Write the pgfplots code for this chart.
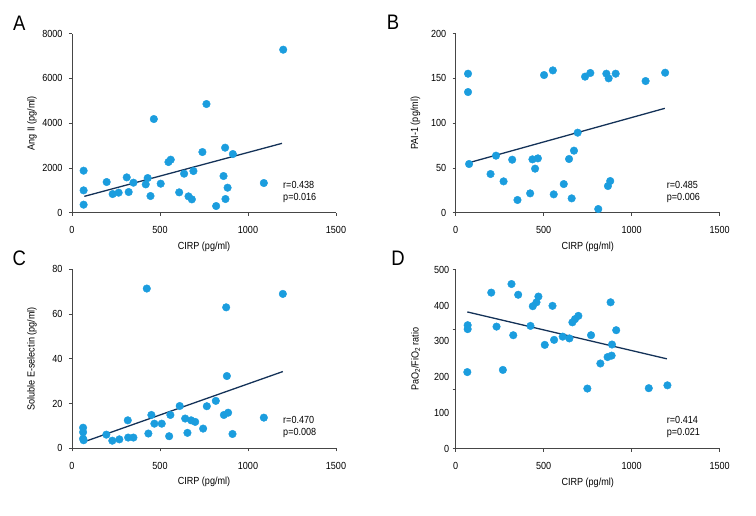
\documentclass[border=0pt]{standalone}
\usepackage{fontspec}
\setmainfont{Liberation Sans}[FakeStretch=0.88]
\usepackage{pgfplots}
\pgfplotsset{compat=1.18}
\definecolor{dotc}{RGB}{27,157,222}
\definecolor{linec}{RGB}{20,50,88}
\definecolor{axc}{RGB}{70,70,70}
\tikzset{
  stat/.style={anchor=west, align=left, font=\fontsize{10.3}{11.7}\selectfont},
  letter/.style={font=\fontsize{21}{24}\selectfont},
}
\pgfplotsset{
  panel/.style={
    scale only axis, width=264pt, height=179pt, anchor=south west,
    clip=false,
    axis lines*=left, axis line style={axc, line width=0.8pt, -},
    tick align=outside, major tick length=3pt,
    tick style={axc, line width=0.8pt},
    xmin=0, xmax=1500, xtick={0,500,1000,1500},
    /pgf/number format/assume math mode=true,
    /pgf/number format/1000 sep={},
    ticklabel style={font=\fontsize{10.3}{12}\selectfont},
    xticklabel style={yshift=-7pt},
    yticklabel style={xshift=-3pt},
    label style={font=\fontsize{10.3}{12}\selectfont},
    xlabel={CIRP (pg/ml)},
    xlabel style={at={(axis description cs:0.5,-0.19)}, anchor=center},
    ylabel style={at={(axis description cs:-0.152,0.5)}, anchor=center},
  },
  dots/.style={only marks, mark=*, mark size=3.8pt, color=dotc, mark options={draw=none, fill=dotc}},
  fit/.style={linec, line width=1.3pt, no marks},
}
\begin{document}
\begin{tikzpicture}
\useasboundingbox (0,0) rectangle (756pt,516pt);
% ---------------- A ----------------
\begin{axis}[panel, at={(72pt,303.3pt)}, ymin=0, ymax=8000, ytick={0,2000,4000,6000,8000},
  ylabel={Ang II (pg/ml)}]
\addplot[dots] coordinates {
(66,1877) (66,998) (66,358) (197,1371) (231,834) (265,894) (311,1579) (322,924)
(349,1341) (419,1266) (430,1549) (446,745) (465,4186) (504,1296) (548,2264) (561,2369)
(609,909) (637,1743) (662,730) (681,596) (690,1862) (741,2711) (764,4857) (819,298)
(861,1639) (870,2905) (872,611) (884,1117) (914,2622) (1090,1326) (1200,7285)};
\addplot[fit] coordinates {(70,730) (1193,3099)};
\node[stat] at (axis cs:1180,940) {r=0.438\\p=0.016};
\node[letter] at (rel axis cs:-0.2,1.061) {A};
\end{axis}
% ---------------- B ----------------
\begin{axis}[panel, at={(455.7pt,303.3pt)}, ymin=0, ymax=200, ytick={0,50,100,150,200},
  ylabel={PAI-1 (pg/ml)}]
\addplot[dots] coordinates {
(70,155.3) (70,134.8) (76,54.4) (198,43.2) (229,63.7) (272,35.0) (321,59.2) (351,14.2)
(423,21.6) (436,59.6) (451,49.2) (467,60.7) (502,153.8) (552,159.0) (557,20.5) (614,32.0)
(644,60.0) (659,16.0) (672,69.3) (693,89.4) (735,152.0) (765,156.1) (810,4.1) (856,155.3)
(865,29.8) (869,150.1) (878,35.4) (909,155.3) (1079,147.1) (1190,156.4)};
\addplot[fit] coordinates {(76,55.9) (1188,116.6)};
\node[stat] at (axis cs:1180,23) {r=0.485\\p=0.006};
\node[letter] at (rel axis cs:-0.237,1.061) {B};
\end{axis}
% ---------------- C ----------------
\begin{axis}[panel, at={(72pt,67.7pt)}, ymin=0, ymax=80, ytick={0,20,40,60,80},
  ylabel={Soluble E-selectin (pg/ml)}]
\addplot[dots] coordinates {
(63,9.2) (63,7.2) (63,4.3) (66,3.6) (195,6.1) (229,3.4) (269,4.0) (317,12.5) (319,4.8)
(349,4.8) (425,71.4) (434,6.6) (451,14.9) (468,11.0) (510,11.0) (552,5.4) (559,14.9)
(612,18.9) (643,13.3) (656,6.9) (677,12.5) (700,11.8) (745,8.8) (766,18.8) (817,21.2)
(863,14.9) (876,63.0) (880,32.3) (887,15.9) (912,6.4) (1090,13.7) (1198,69.0)};
\addplot[fit] coordinates {(83,3.3) (1198,34.3)};
\node[stat] at (axis cs:1180,9.5) {r=0.470\\p=0.008};
\node[letter] at (rel axis cs:-0.2,1.062) {C};
\end{axis}
% ---------------- D ----------------
\begin{axis}[panel, at={(455.7pt,67.3pt)}, ymin=0, ymax=500,
  ytick={0,166.667,333.333,500}, yticklabels={},
  extra y ticks={0,100,200,300,400,500},
  extra y tick labels={0,100,200,300,400,500},
  extra y tick style={major tick length=0pt},
  ylabel={PaO\textsubscript{2}/FiO\textsubscript{2} ratio}]
\addplot[dots] coordinates {
(68,345) (68,334) (66,214) (202,436) (232,341) (268,220) (317,460) (327,317)
(355,430) (425,343) (438,398) (459,409) (470,425) (506,290) (550,399) (559,304)
(608,313) (646,308) (663,353) (678,362) (697,371) (748,168) (769,317) (822,238)
(863,256) (880,409) (886,260) (888,291) (912,331) (1097,169) (1203,177)};
\addplot[fit] coordinates {(66,382) (1200,251)};
\node[stat] at (axis cs:1180,60) {r=0.414\\p=0.021};
\node[letter] at (rel axis cs:-0.218,1.062) {D};
\end{axis}
\end{tikzpicture}
\end{document}
